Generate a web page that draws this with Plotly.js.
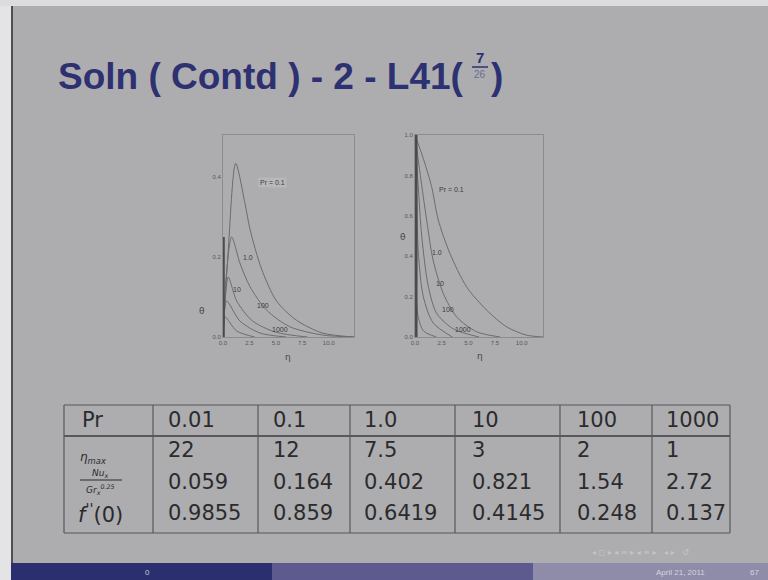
<!DOCTYPE html>
<html>
<head>
<meta charset="utf-8">
<script src="https://cdn.plot.ly/plotly-3.0.1.min.js"></script>
<style>html,body{margin:0;padding:0;background:#adadb0;}#chart{width:768px;height:580px;}</style>
</head>
<body>
<div id="chart"></div>
<script>
// ---- Left plot curves (eta, value) ----
const leftLabels = ['Pr = 0.1', '1.0', '10', '100', '1000'];
const leftLabelX = [4.7, 2.4, 1.3, 3.75, 5.4];
const leftLabelY = [0.385, 0.2, 0.118, 0.08, 0.02];
const L1x = [0, 0.48, 1.2, 2.08, 2.55, 3.65, 5.07, 6.95, 9.4, 12.4];
const L1y = [0, 0.21, 0.434, 0.334, 0.27, 0.17, 0.09, 0.042, 0.01, 0];
const L2x = [0, 0.3, 0.82, 1.6, 2.55, 4.1, 6.3, 9.4, 12.4];
const L2y = [0, 0.15, 0.25, 0.185, 0.126, 0.068, 0.026, 0.005, 0];
const L3x = [0, 0.2, 0.5, 1.3, 2.8, 5, 8];
const L3y = [0, 0.09, 0.15, 0.09, 0.04, 0.012, 0];
const L4x = [0, 0.12, 0.35, 1.6, 3.5, 6];
const L4y = [0, 0.06, 0.09, 0.04, 0.01, 0];
const L5x = [0, 0.08, 0.2, 1.3, 3];
const L5y = [0, 0.03, 0.05, 0.015, 0];
const L6x = [0.05, 0.05];
const L6y = [0, 0.25];

// ---- Right plot curves (eta, theta) ----
const rightLabels = ['Pr = 0.1', '1.0', '10', '100', '1000'];
const rightLabelX = [3.4, 2.03, 2.34, 3.1, 4.5];
const rightLabelY = [0.73, 0.42, 0.266, 0.134, 0.038];
const R1x = [0, 0.8, 1.56, 2.18, 3.27, 4.83, 6.7, 8.57, 10.4, 12];
const R1y = [1, 0.88, 0.744, 0.58, 0.414, 0.249, 0.134, 0.051, 0.01, 0];
const R2x = [0, 0.5, 1.09, 1.7, 2.65, 3.9, 5.77, 8];
const R2y = [1, 0.8, 0.58, 0.38, 0.216, 0.1, 0.026, 0];
const R3x = [0, 0.3, 0.63, 1.25, 2.03, 3.6, 6];
const R3y = [1, 0.75, 0.5, 0.25, 0.117, 0.04, 0];
const R4x = [0, 0.15, 0.31, 0.78, 1.7, 3.5];
const R4y = [1, 0.7, 0.42, 0.2, 0.07, 0];
const R5x = [0, 0.05, 0.09, 0.3, 0.8, 2];
const R5y = [1, 0.6, 0.25, 0.1, 0.03, 0];
const R6x = [0.12, 0.12];
const R6y = [0, 1];

// ---- Axis ticks ----
const etaTickVals = [0, 2.5, 5, 7.5, 10];
const etaTickText = ['0.0', '2.5', '5.0', '7.5', '10.0'];
const leftYTickVals = [0, 0.2, 0.4];
const leftYTickText = ['0.0', '0.2', '0.4'];
const rightYTickVals = [0, 0.2, 0.4, 0.6, 0.8, 1.0];
const rightYTickText = ['0.0', '0.2', '0.4', '0.6', '0.8', '1.0'];

// ---- Table ----
const prValues = ['0.01', '0.1', '1.0', '10', '100', '1000'];
const etaMax = ['22', '12', '7.5', '3', '2', '1'];
const nuValues = ['0.059', '0.164', '0.402', '0.821', '1.54', '2.72'];
const fppValues = ['0.9855', '0.859', '0.6419', '0.4145', '0.248', '0.137'];

// ---------------------------------------------------------------
const W = 768, H = 580;
const px = x => x / W;
const py = y => 1 - y / H;

const curveColor = '#6c6c6e';
function line(x, y, xa, ya, w, c) {
  return {x: x, y: y, xaxis: xa, yaxis: ya, type: 'scatter', mode: 'lines',
    line: {color: c || curveColor, width: w || 1, shape: 'spline', smoothing: 0.8},
    hoverinfo: 'skip', showlegend: false};
}
const data = [
  line(L1x, L1y, 'x', 'y'), line(L2x, L2y, 'x', 'y'), line(L3x, L3y, 'x', 'y'),
  line(L4x, L4y, 'x', 'y'), line(L5x, L5y, 'x', 'y'), line(L6x, L6y, 'x', 'y', 2.5, '#4a4a4c'),
  line(R1x, R1y, 'x2', 'y2'), line(R2x, R2y, 'x2', 'y2'), line(R3x, R3y, 'x2', 'y2'),
  line(R4x, R4y, 'x2', 'y2'), line(R5x, R5y, 'x2', 'y2'), line(R6x, R6y, 'x2', 'y2', 2.5, '#4a4a4c')
];

const frameColor = '#8c8c8e';
const tickFont = {family: 'Liberation Sans', size: 6, color: '#555'};
function xAx(dom, rng) {
  return {domain: dom, range: rng, showline: true, mirror: true, linecolor: frameColor, linewidth: 1,
    showgrid: false, zeroline: false, ticks: '', tickmode: 'array', tickvals: etaTickVals, ticktext: etaTickText,
    tickfont: tickFont, fixedrange: true};
}
function yAx(dom, rng, tv, tt) {
  return {domain: dom, range: rng, showline: true, mirror: true, linecolor: frameColor, linewidth: 1,
    showgrid: false, zeroline: false, ticks: '', tickmode: 'array', tickvals: tv, ticktext: tt,
    tickfont: tickFont, fixedrange: true};
}

const ann = [];
const shapes = [];
function txt(x, y, t, opt) {
  opt = opt || {};
  ann.push({x: px(x), y: py(y), xref: 'paper', yref: 'paper', text: t, showarrow: false,
    xanchor: opt.xa || 'left', yanchor: 'middle',
    font: {family: opt.family || 'DejaVu Sans', size: opt.size || 21, color: opt.color || '#2b2b2d'}});
}
function rect(x0, y0, x1, y1, color) {
  shapes.push({type: 'rect', xref: 'paper', yref: 'paper', x0: px(x0), x1: px(x1), y0: py(y1), y1: py(y0),
    fillcolor: color, line: {width: 0}, layer: 'below'});
}
function seg(x0, y0, x1, y1, color, w) {
  shapes.push({type: 'line', xref: 'paper', yref: 'paper', x0: px(x0), x1: px(x1), y0: py(y0), y1: py(y1),
    line: {color: color, width: w}});
}

// slide frame
rect(0, 0, 11, 580, '#e4e4e6');
rect(0, 0, 768, 6, '#dcdcde');
rect(11, 6, 13, 580, '#4e4e52');

// title
const navy = '#2d3172';
txt(56, 76, '<b>Soln ( Contd ) - 2 - L41(</b>', {family: 'Liberation Sans', size: 37, color: navy});
txt(480, 58, '<b>7</b>', {family: 'Liberation Sans', size: 15, color: navy, xa: 'center'});
seg(472, 67, 488, 67, navy, 1.5);
txt(480, 74, '26', {family: 'Liberation Sans', size: 10, color: '#6a6c90', xa: 'center'});
txt(489, 76, '<b>)</b>', {family: 'Liberation Sans', size: 37, color: navy});

// curve labels
const labFont = {family: 'Liberation Sans', size: 7, color: '#3a3a3c'};
leftLabels.forEach((t, i) => ann.push({x: leftLabelX[i], y: leftLabelY[i], xref: 'x', yref: 'y', text: t,
  showarrow: false, font: labFont, bgcolor: i === 0 ? '#b8b8ba' : 'rgba(0,0,0,0)'}));
rightLabels.forEach((t, i) => ann.push({x: rightLabelX[i], y: rightLabelY[i], xref: 'x2', yref: 'y2', text: t,
  showarrow: false, font: labFont}));

// axis titles
txt(288, 357, 'η', {family: 'DejaVu Sans', size: 9, color: '#444', xa: 'center'});
txt(480, 356, 'η', {family: 'DejaVu Sans', size: 9, color: '#444', xa: 'center'});
txt(202, 311, 'θ', {family: 'DejaVu Sans', size: 9, color: '#444', xa: 'center'});
txt(403, 237, 'θ', {family: 'DejaVu Sans', size: 9, color: '#444', xa: 'center'});

// table grid
const tLeft = 64, tRight = 730, tTop = 405, tHead = 436, tBottom = 533;
const colX = [64, 153, 258, 350, 455, 560, 652, 730];
const gridC = '#58585c';
seg(tLeft, tTop, tRight, tTop, gridC, 1.2);
seg(tLeft, tHead, tRight, tHead, gridC, 2);
seg(tLeft, tBottom, tRight, tBottom, gridC, 1.2);
colX.forEach(x => seg(x, tTop, x, tBottom, gridC, 1.2));

// table text
const textX = [166, 271, 362, 470, 575, 664];
txt(80, 420, 'Pr');
prValues.forEach((v, i) => txt(textX[i], 420, v));
etaMax.forEach((v, i) => txt(textX[i], 450, v));
nuValues.forEach((v, i) => txt(textX[i], 482, v));
fppValues.forEach((v, i) => txt(textX[i], 513, v));
txt(78, 458, '<i>η<sub>max</sub></i>', {family: 'DejaVu Sans', size: 12});
txt(100, 473, '<i>Nu<sub>x</sub></i>', {family: 'DejaVu Sans', size: 9, xa: 'center'});
seg(80, 480, 122, 480, '#2b2b2d', 1);
txt(100, 489, '<i>Gr<sub>x</sub><sup>0.25</sup></i>', {family: 'DejaVu Sans', size: 9, xa: 'center'});
txt(76, 513, '<i>f</i><sup>\'\'</sup>(0)', {family: 'DejaVu Sans', size: 21});

// footer
rect(11, 563, 272, 580, '#2c2f6f');
rect(272, 563, 533, 580, '#5c5a8e');
rect(533, 563, 768, 580, '#8e8ca8');
txt(147, 572, '0', {family: 'Liberation Sans', size: 8, color: '#c8c8dc', xa: 'center'});
txt(680, 572, 'April 21, 2011', {family: 'Liberation Sans', size: 8, color: '#d4d4e2', xa: 'center'});
txt(748, 572, '67', {family: 'Liberation Sans', size: 8, color: '#d4d4e2'});
txt(640, 552, '◂ ◻ ▸ ◂ ≡ ▸ ◂ ≡ ▸   ◂ ▸   ↺', {family: 'DejaVu Sans', size: 8, color: '#c4c4c8', xa: 'center'});

const layout = {
  width: W, height: H, margin: {l: 0, r: 0, t: 0, b: 0},
  paper_bgcolor: '#adadb0', plot_bgcolor: 'rgba(0,0,0,0)',
  showlegend: false,
  xaxis: Object.assign(xAx([px(223), px(354)], [0, 12.4]), {anchor: 'y'}),
  yaxis: Object.assign(yAx([py(337), py(135)], [0, 0.505], leftYTickVals, leftYTickText), {anchor: 'x'}),
  xaxis2: Object.assign(xAx([px(415), px(543)], [0, 12.0]), {anchor: 'y2'}),
  yaxis2: Object.assign(yAx([py(337), py(135)], [0, 1.0], rightYTickVals, rightYTickText), {anchor: 'x2'}),
  annotations: ann,
  shapes: shapes
};

Plotly.newPlot('chart', data, layout, {displayModeBar: false, staticPlot: true});
</script>
</body>
</html>
